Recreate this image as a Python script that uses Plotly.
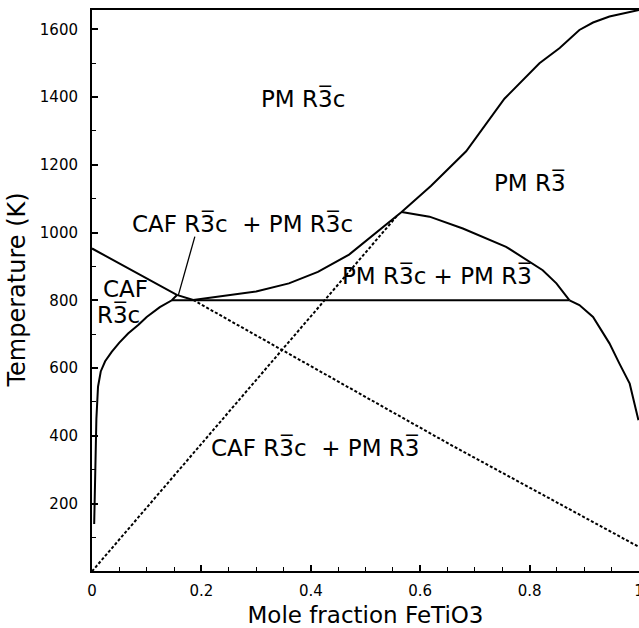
import plotly.graph_objects as go

OV = "\u0305"
R3c = "R3" + OV + "c"
R3 = "R3" + OV

# PM R-3c / (PM R-3c + PM R-3) and PM R-3 upper boundary
x_upper = [0.185, 0.24, 0.30, 0.36, 0.413, 0.47, 0.526, 0.566, 0.62, 0.684, 0.754, 0.818, 0.855, 0.891, 0.916, 0.946, 1.0]
y_upper = [801, 813, 826, 850, 884, 935, 1007, 1061, 1138, 1240, 1395, 1500, 1545, 1598, 1620, 1638, 1657]

# miscibility dome PM R-3c + PM R-3
x_dome = [0.566, 0.617, 0.678, 0.757, 0.824, 0.849, 0.873]
y_dome = [1061, 1047, 1012, 958, 889, 850, 800]

# right boundary below eutectoid
x_right = [0.873, 0.891, 0.916, 0.946, 0.964, 0.983, 0.999]
y_right = [800, 786, 751, 673, 614, 554, 446]

# eutectoid horizontal
x_eut = [0.146, 0.873]
y_eut = [800, 800]

# CAF R-3c boundary
x_caf = [0.004, 0.006, 0.008, 0.011, 0.016, 0.024, 0.036, 0.05, 0.066, 0.085, 0.10, 0.124, 0.146, 0.155]
y_caf = [140, 330, 450, 545, 590, 620, 648, 675, 702, 728, 751, 780, 800, 815]

# magnetic transition line (solid part, then short link, then metastable dashed)
x_mag_solid = [0.0, 0.155, 0.185]
y_mag_solid = [953, 816, 801]
x_mag_dash = [0.185, 0.654, 1.0]
y_mag_dash = [801, 375, 72]

# metastable R-3c / R-3 line from origin
x_order_dash = [0.0, 0.558]
y_order_dash = [0, 1050]

# leader line for the three-phase label
x_leader = [0.188, 0.158]
y_leader = [988, 816]

labels_text = ["PM " + R3c, "PM " + R3, "CAF " + R3c + "  + PM " + R3c,
               "PM " + R3c + " + PM " + R3, "CAF " + R3c + "  + PM " + R3, "CAF", R3c]
labels_x = [0.385, 0.80, 0.276, 0.63, 0.407, 0.061, 0.049]
labels_y = [1397, 1149, 1028, 874, 365, 832, 759]

x_title = "Mole fraction FeTiO3"
y_title = "Temperature (K)"

fig = go.Figure()


def add_line(x, y, dash=None, width=2):
    fig.add_trace(go.Scatter(x=x, y=y, mode="lines",
                             line=dict(color="black", width=width, dash=dash),
                             hoverinfo="skip", showlegend=False))


add_line(x_upper, y_upper)
add_line(x_dome, y_dome)
add_line(x_right, y_right)
add_line(x_eut, y_eut)
add_line(x_caf, y_caf)
add_line(x_mag_solid, y_mag_solid)
add_line(x_mag_dash, y_mag_dash, dash="3px,2px")
add_line(x_order_dash, y_order_dash, dash="3px,2px")
add_line(x_leader, y_leader, width=1.3)

for t, xx, yy in zip(labels_text, labels_x, labels_y):
    fig.add_annotation(x=xx, y=yy, text=t, showarrow=False, xanchor="center",
                       yanchor="middle", font=dict(size=23, color="black", family="DejaVu Sans"))

# y-axis title as a rotated annotation (sits further left than the axis title would)
fig.add_annotation(xref="paper", yref="paper", x=0, y=0.5, xshift=-76, text=y_title,
                   textangle=-90, showarrow=False, xanchor="center", yanchor="middle",
                   font=dict(size=24, color="black", family="DejaVu Sans"))

axis_common = dict(
    showline=True, linecolor="black", linewidth=2,
    ticks="inside", tickcolor="black", tickwidth=1.5, ticklen=6,
    showgrid=False, zeroline=False, automargin=False,
    tickfont=dict(size=15, color="black", family="DejaVu Sans"),
    ticklabeloverflow="allow",
)

fig.update_layout(
    width=639, height=628,
    margin=dict(l=92, r=0, t=10, b=57, autoexpand=False),
    paper_bgcolor="white", plot_bgcolor="white",
    font=dict(family="DejaVu Sans", color="black"),
    hovermode=False,
    xaxis=dict(range=[0, 1], tick0=0, dtick=0.2, mirror=True,
               minor=dict(ticks="inside", ticklen=4, tickcolor="black", tickwidth=1, dtick=0.05, tick0=0),
               title=dict(text=x_title, font=dict(size=23), standoff=8),
               ticklabelstandoff=5,
               **axis_common),
    yaxis=dict(range=[1, 1657], tick0=0, dtick=200, mirror=False,
               minor=dict(ticks="inside", ticklen=4, tickcolor="black", tickwidth=1, dtick=100, tick0=0),
               ticklabelstandoff=9,
               **axis_common),
)

# place the figure at the page's top-left corner without scrollbars
fig.write_html("out.html", config={"displayModeBar": False},
               post_script="document.body.style.margin='0px';"
                           "document.documentElement.style.overflow='hidden';"
                           "document.body.style.overflow='hidden';")
